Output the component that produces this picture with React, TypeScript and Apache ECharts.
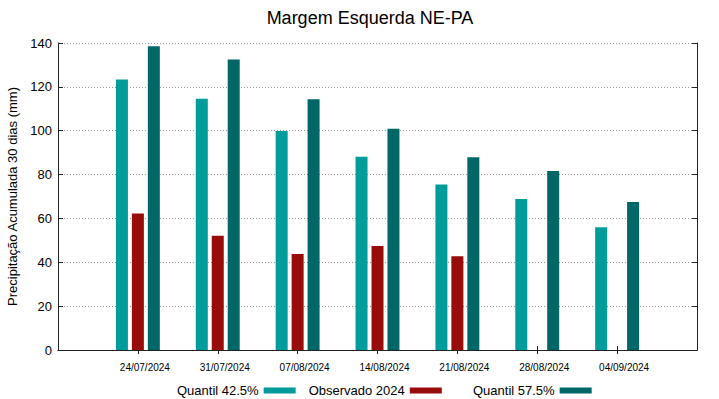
import React, { useEffect, useRef } from "react";
import * as echarts from "echarts";

const dates = ["24/07/2024", "31/07/2024", "07/08/2024", "14/08/2024", "21/08/2024", "28/08/2024", "04/09/2024"];
const quantil425 = [123.4, 114.6, 99.9, 88.1, 75.5, 68.9, 56.0];
const observado2024: (number | null)[] = [62.3, 52.1, 43.8, 47.4, 42.7, null, null];
const quantil575 = [138.5, 132.5, 114.3, 100.9, 87.9, 81.6, 67.5];
const yTicks = [0, 20, 40, 60, 80, 100, 120, 140];

const FONT = "Liberation Sans, Arial, Helvetica, sans-serif";

export default function App() {
  const ref = useRef<HTMLDivElement>(null);
  useEffect(() => {
    if (!ref.current) return;
    const chart = echarts.init(ref.current, null, { renderer: "svg" });
    const axisData = ["", ...dates, ""];
    const pad = (a: (number | null)[]) => [null, ...a, null];
    const tickStyle = { show: true, inside: true, length: 5, lineStyle: { color: "#222", width: 1 } };
    const lineStyle = { show: true, lineStyle: { color: "#222", width: 1 } };
    const legendBase = {
      top: 379,
      align: "right",
      itemWidth: 32,
      itemHeight: 6,
      itemGap: 13,
      icon: "rect",
      textStyle: { fontSize: 13, color: "#000", fontFamily: FONT },
    };
    chart.setOption({
      animation: false,
      backgroundColor: "#ffffff",
      textStyle: { fontFamily: FONT },
      title: {
        text: "Margem Esquerda NE-PA",
        left: 365,
        top: 4,
        textAlign: "center",
        textStyle: { fontSize: 18, fontWeight: "normal", color: "#000", fontFamily: FONT },
      },
      legend: [
        { ...legendBase, left: 172, data: ["Quantil 42.5%", "Observado 2024"] },
        { ...legendBase, left: 468, data: ["Quantil 57.5%"] },
      ],
      grid: { left: 58, right: 22, top: 43, bottom: 49, containLabel: false, outerBoundsMode: "none" },
      xAxis: [
        {
          type: "category",
          data: axisData,
          boundaryGap: false,
          position: "bottom",
          axisLine: lineStyle,
          axisTick: { ...tickStyle, length: 4, interval: (i: number) => i > 0 && i < axisData.length - 1 },
          axisLabel: { interval: 0, fontSize: 10, color: "#000", margin: 12, padding: [0, 0, 0, 14], fontFamily: FONT },
          splitLine: { show: false },
        },
        {
          type: "category",
          data: axisData,
          boundaryGap: false,
          position: "top",
          axisLine: lineStyle,
          axisTick: { ...tickStyle, length: 4, interval: (i: number) => i > 0 && i < axisData.length - 1 },
          axisLabel: { show: false },
          splitLine: { show: false },
        },
      ],
      yAxis: [
        {
          type: "value",
          min: 0,
          max: 140,
          interval: 20,
          position: "left",
          name: "Precipitação Acumulada 30 dias (mm)",
          nameLocation: "middle",
          nameGap: 33,
          nameTextStyle: { fontSize: 13, color: "#000", fontFamily: FONT },
          axisLine: lineStyle,
          axisTick: tickStyle,
          axisLabel: {
            fontSize: 13,
            color: "#000",
            margin: 6,
            fontFamily: FONT,
            formatter: (v: number) => (yTicks.includes(v) ? String(v) : ""),
          },
          splitLine: { show: true, lineStyle: { color: "#999", type: [1, 2], width: 1 } },
        },
        {
          type: "value",
          min: 0,
          max: 140,
          interval: 20,
          position: "right",
          axisLine: lineStyle,
          axisTick: tickStyle,
          axisLabel: { show: false },
          splitLine: { show: false },
        },
      ],
      series: [
        {
          name: "Quantil 42.5%",
          type: "bar",
          data: pad(quantil425),
          barWidth: 12,
          barGap: "33%",
          itemStyle: { color: "#009b9b" },
        },
        {
          name: "Observado 2024",
          type: "bar",
          data: pad(observado2024),
          barWidth: 12,
          barGap: "33%",
          itemStyle: { color: "#990c0c" },
        },
        {
          name: "Quantil 57.5%",
          type: "bar",
          data: pad(quantil575),
          barWidth: 12,
          barGap: "33%",
          itemStyle: { color: "#006666" },
        },
      ],
    });
    return () => chart.dispose();
  }, []);
  return <div ref={ref} style={{ width: 719, height: 399, position: "absolute", left: 0, top: 0 }} />;
}
